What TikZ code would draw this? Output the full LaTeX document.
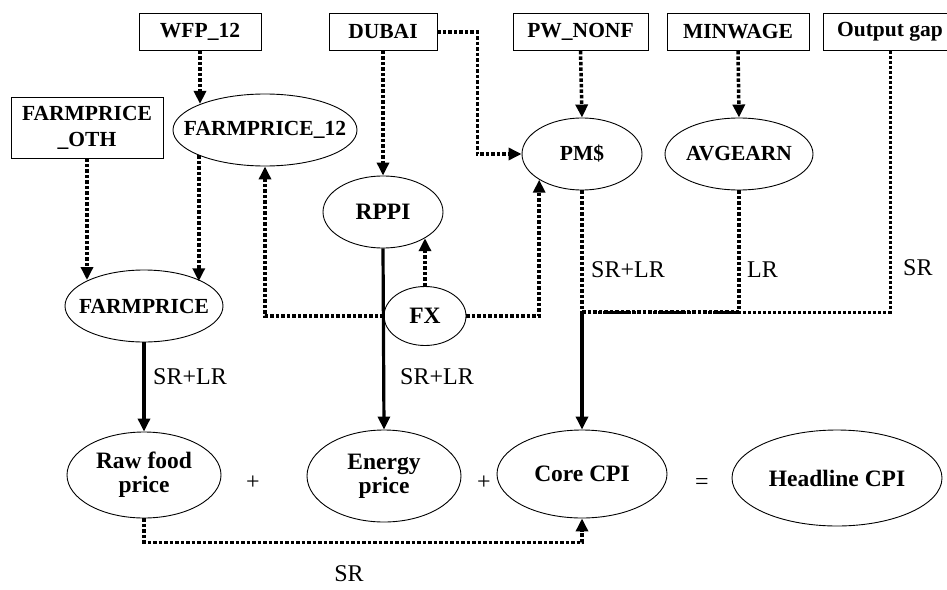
\documentclass[tikz,border=0pt]{standalone}
\usepackage{fontspec}
\setmainfont{Liberation Serif}
\usetikzlibrary{arrows.meta,shapes.geometric}
\begin{document}
\begin{tikzpicture}[x=1pt,y=-1pt,
  box/.style={draw,line width=0.9pt,rectangle,inner sep=0pt,font=\fontsize{21.5}{26}\selectfont\bfseries,align=center},
  ell/.style={draw,line width=0.9pt,ellipse,inner xsep=-24pt,inner ysep=-6pt,font=\fontsize{21.5}{24}\selectfont\bfseries,align=center},
  big/.style={font=\fontsize{23.5}{24}\selectfont\bfseries},
  dotln/.style={line width=3.5pt,dash pattern=on 3.5pt off 2pt},
  dotthin/.style={line width=3pt,dash pattern=on 3pt off 2pt},
  dotarr/.style={dotln,-{Triangle[length=13pt,width=12pt]}},
  solarr/.style={line width=3.2pt,-{Triangle[length=13pt,width=12pt]}},
  lab/.style={font=\fontsize{24}{26}\selectfont,inner sep=0pt}]
\clip (0,0) rectangle (947,589);
% top boxes
\node[box,minimum width=122pt,minimum height=37pt] (wfp) at (200,32) {WFP\_12};
\node[box,minimum width=108pt,minimum height=37pt] (dubai) at (383,32) {DUBAI};
\node[box,minimum width=135pt,minimum height=37pt] (pwn) at (580.5,32) {PW\_NONF};
\node[box,minimum width=142pt,minimum height=37pt] (minw) at (738,32) {MINWAGE};
\node[box,minimum width=134pt,minimum height=37pt] (og) at (890,32) {Output gap};
\node[box,minimum width=152pt,minimum height=61pt] (fpoth) at (87,127.5) {FARMPRICE\\\_OTH};
% ellipses
\node[ell,minimum width=184pt,minimum height=72pt] (fp12) at (265,130) {FARMPRICE\_12};
\node[ell,big,minimum width=120pt,minimum height=72pt] (rppi) at (383,212) {RPPI};
\node[ell,minimum width=120pt,minimum height=72pt] (pm) at (582,154) {PM\$};
\node[ell,minimum width=148pt,minimum height=72pt] (avg) at (739,154) {AVGEARN};
\node[ell,minimum width=158pt,minimum height=72pt] (farm) at (144,306) {FARMPRICE};
\node[ell,big,minimum width=82pt,minimum height=59pt] (fx) at (425,316) {FX};
\node[ell,big,minimum width=154pt,minimum height=86pt] (raw) at (144,475) {Raw food\\price};
\node[ell,big,minimum width=154pt,minimum height=92pt] (energy) at (384,476) {Energy\\price};
\node[ell,big,minimum width=170pt,minimum height=88pt] (core) at (582,474) {Core CPI};
\node[ell,big,minimum width=210pt,minimum height=96pt] (head) at (837,478) {Headline CPI};
% operators
\node[lab] (p1) at (253,483) {+};
\node[lab] (p2) at (484,483) {+};
\node[lab] (eq) at (702,484) {=};
% connectors
\draw[dotarr] (wfp.south) -- (wfp.south |- fp12.158.6);
\draw[dotarr] (fpoth.south) -- (fpoth.south |- farm.155.6);
\draw[dotarr] (fp12.201.4) -- (fp12.201.4 |- farm.23.6);
\draw[dotarr] (dubai.south) -- (rppi.north);
\draw[dotarr] (dubai.east) -- ++(40,0) |- (pm.west);
\draw[dotarr] (pwn.south) -- (pm.north);
\draw[dotarr] (minw.south) -- (avg.north);
\draw[dotarr] (fx.north) -- (fx.north |- rppi.328.5);
\draw[dotarr] (fx.west) -| (fp12.south);
\draw[dotarr] (fx.east) -| (pm.211.5);
\draw[solarr] (farm.south) -- (raw.north);
\draw[solarr] (rppi.south) -- (energy.north);
\coordinate (j) at (582,312);
\draw[dotln] (pm.south) -- (j);
\draw[dotln] (avg.south) |- (j);
\draw[dotthin] (og.south) |- (j);
\draw[solarr] (j) -- (core.north);
\draw[dotarr] (raw.south) -- ++(0,24) -| (core.south);
% labels
\node[lab,anchor=west] (l1) at (153,377) {SR+LR};
\node[lab,anchor=west] (l2) at (400,377) {SR+LR};
\node[lab,anchor=west] (l3) at (591,270) {SR+LR};
\node[lab,anchor=west] (l4) at (747,270) {LR};
\node[lab,anchor=west] (l5) at (903,268) {SR};
\node[lab] (l6) at (349,574) {SR};
\end{tikzpicture}
\end{document}
